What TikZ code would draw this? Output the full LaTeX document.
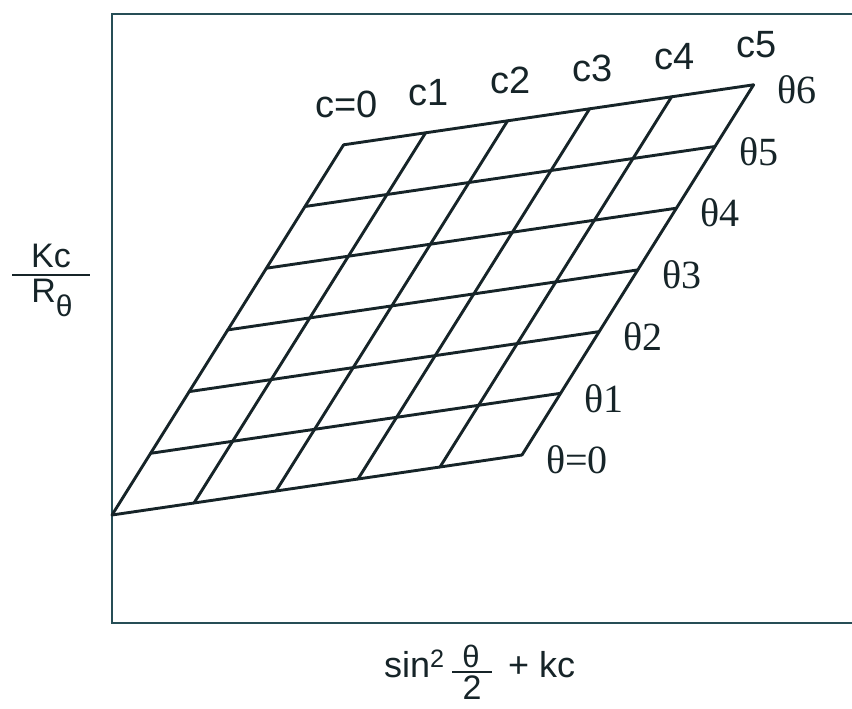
\documentclass[tikz,border=0pt]{standalone}
\usepackage{fontspec}
\setmainfont{Liberation Sans}
\newfontfamily\thetafont{Liberation Serif}
\definecolor{framecol}{RGB}{38,78,86}
\definecolor{gridcol}{RGB}{22,36,40}
\begin{document}
\begin{tikzpicture}[x=1pt,y=-1pt,
        gridline/.style={draw=gridcol,line width=2.9pt,line cap=round,line join=round},
        clabel/.style={font=\fontsize{38}{42}\selectfont,text=gridcol,inner sep=0pt},
        tlabel/.style={font=\thetafont\fontsize{40}{44}\selectfont,text=gridcol,inner sep=0pt,anchor=west},
        axlabel/.style={font=\fontsize{36}{40}\selectfont,text=gridcol,inner sep=0pt}]
        \useasboundingbox (0,0) rectangle (852,709);
        % frame
        \draw [framecol,line width=2.8pt] (852,14) -- (112,14) -- (112,623) -- (852,623);
        % mesh points
        \foreach \col in {0,...,5}
            \foreach \row in {0,...,6}
                \coordinate (p\col\row) at ({112+82*\col+38.6*\row},{515-12*\col-61.7*\row});
        \foreach \row in {0,...,6}
            \draw [gridline] (p0\row) -- (p5\row);
        \foreach \col in {0,...,5}
            \draw [gridline] (p\col0) -- (p\col6);
        % c and theta labels
        \foreach \col/\txt in {0/c=0,1/c1,2/c2,3/c3,4/c4,5/c5}
            \path (p\col6) ++(3,-40) node [clabel] (c\col) {\txt};
        \foreach \row/\txt in {0/θ=0,1/θ1,2/θ2,3/θ3,4/θ4,5/θ5,6/θ6}
            \path (p5\row) ++(24,5) node [tlabel] (t\row) {\txt};
        % vertical axis label
        \node [axlabel,font=\fontsize{34}{38}\selectfont] (kc) at (51,256) {Kc};
        \node [axlabel,font=\fontsize{34}{38}\selectfont] (rth) at (52,298) {R\raisebox{-14pt}{\fontsize{30}{30}\selectfont θ}};
        \draw [gridcol,line width=2.6pt] (12,275) -- (90,275);
        % horizontal axis label
        \node [axlabel,anchor=base west] (sinl) at (384,677) {sin\textsuperscript{2}};
        \node [axlabel,font=\fontsize{31}{36}\selectfont] (thnum) at (471,656) {θ};
        \draw [gridcol,line width=2.6pt] (452,672) -- (492,672);
        \node [axlabel,font=\fontsize{34}{38}\selectfont] (twoden) at (472,688) {2};
        \node [axlabel,anchor=base west] (pluskc) at (508,677) {+ kc};
    \end{tikzpicture}
\end{document}
